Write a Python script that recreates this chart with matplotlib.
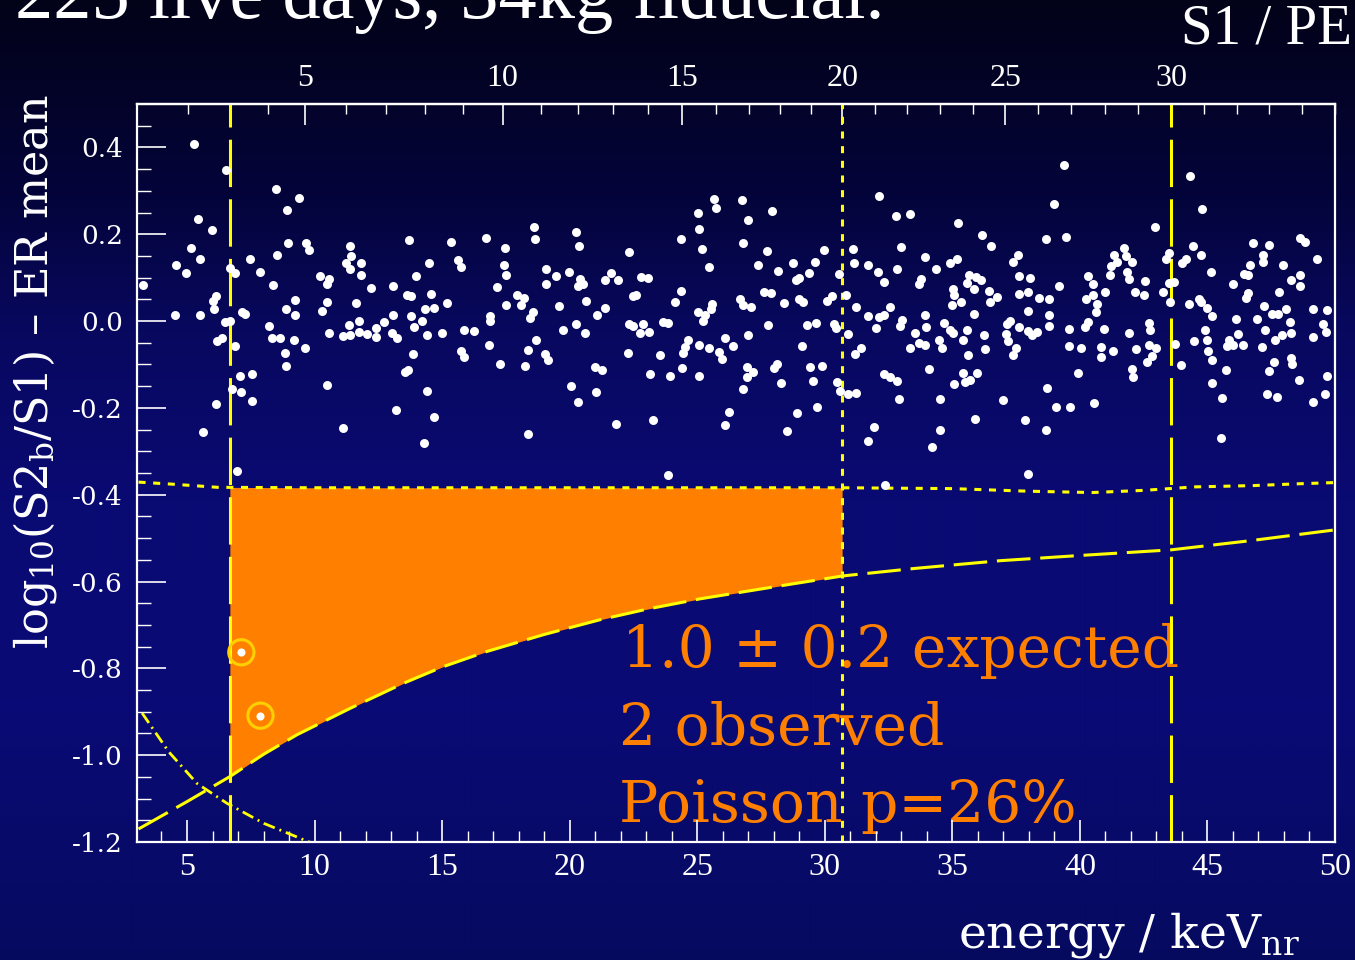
import numpy as np
import matplotlib
matplotlib.use("Agg")
import matplotlib.pyplot as plt
from matplotlib.ticker import FixedLocator

plt.rcParams['axes.unicode_minus'] = False
plt.rcParams['mathtext.fontset'] = 'dejavuserif'

# events: energy [keVnr], log10(S2b/S1) - ER mean
events = np.array([
    [5.26, 0.409], [6.54, 0.348], [8.48, 0.304], [9.40, 0.284], [8.92, 0.255], [5.43, 0.236],
    [5.97, 0.209], [8.95, 0.180], [9.66, 0.180], [9.78, 0.163], [5.17, 0.169], [5.51, 0.142],
    [7.48, 0.144], [8.52, 0.152], [4.57, 0.128], [4.96, 0.110], [6.70, 0.122], [6.88, 0.111],
    [7.88, 0.113], [10.23, 0.103], [10.58, 0.096], [10.48, 0.085], [3.28, 0.082], [8.37, 0.083],
    [6.13, 0.058], [6.02, 0.047], [9.24, 0.048], [10.48, 0.045], [6.05, 0.028], [8.89, 0.028],
    [10.29, 0.024], [4.53, 0.015], [5.50, 0.015], [7.17, 0.020], [7.29, 0.017], [9.25, 0.014],
    [6.68, 0.000], [6.49, -0.003], [8.23, -0.011], [10.56, -0.027], [6.36, -0.039], [6.19, -0.045],
    [8.33, -0.040], [8.66, -0.038], [9.18, -0.044], [6.87, -0.058], [9.64, -0.063], [8.84, -0.073],
    [8.87, -0.103], [7.09, -0.126], [7.56, -0.122], [10.50, -0.147], [6.75, -0.156], [7.11, -0.164],
    [7.56, -0.184], [6.13, -0.192], [5.62, -0.256], [6.95, -0.346],
    [11.40, 0.172], [11.43, 0.151], [11.23, 0.134], [11.39, 0.119], [11.83, 0.133], [11.81, 0.107],
    [13.72, 0.186], [15.36, 0.182], [16.72, 0.191], [18.62, 0.216], [18.64, 0.190], [17.47, 0.168],
    [14.49, 0.134], [15.61, 0.140], [15.75, 0.124], [17.42, 0.128], [17.50, 0.107], [13.99, 0.104],
    [12.23, 0.077], [13.08, 0.081], [13.63, 0.059], [13.78, 0.057], [14.58, 0.063], [17.17, 0.078],
    [17.94, 0.060], [18.20, 0.053], [18.08, 0.036], [17.52, 0.036], [11.62, 0.041], [15.18, 0.041],
    [14.34, 0.028], [14.67, 0.030], [18.57, 0.021], [18.46, 0.006], [13.08, 0.014], [13.79, 0.011],
    [14.23, 0.001], [12.74, -0.002], [16.87, 0.011], [16.87, 0.001], [11.35, -0.010], [11.73, 0.000],
    [13.90, -0.014], [12.41, -0.017], [11.12, -0.035], [11.38, -0.032], [11.74, -0.025], [12.06, -0.029],
    [12.41, -0.036], [13.05, -0.027], [13.25, -0.039], [14.41, -0.032], [14.99, -0.027], [15.87, -0.021],
    [16.25, -0.022], [18.69, -0.043], [16.85, -0.056], [18.37, -0.067], [13.86, -0.075], [15.75, -0.070],
    [15.85, -0.082], [17.26, -0.099], [18.26, -0.103], [13.54, -0.118], [13.65, -0.113], [14.42, -0.160],
    [13.19, -0.204], [14.70, -0.220], [11.12, -0.246], [14.30, -0.281], [18.37, -0.260],
    [25.65, 0.281], [25.75, 0.261], [25.05, 0.249], [25.08, 0.213], [20.26, 0.205], [20.36, 0.174],
    [24.37, 0.188], [25.19, 0.165], [22.33, 0.158], [25.45, 0.125], [19.09, 0.119], [19.46, 0.103],
    [19.06, 0.086], [19.98, 0.113], [20.42, 0.097], [20.51, 0.086], [20.32, 0.080], [21.62, 0.110],
    [21.40, 0.094], [21.91, 0.094], [22.81, 0.102], [23.07, 0.099], [24.38, 0.070], [22.50, 0.057],
    [22.60, 0.059], [20.65, 0.047], [19.60, 0.035], [24.13, 0.043], [21.38, 0.031], [21.09, 0.015],
    [25.58, 0.040], [25.53, 0.028], [25.05, 0.020], [25.32, 0.015], [25.22, 0.000], [20.26, -0.006],
    [22.34, -0.007], [22.47, -0.012], [22.88, -0.007], [23.66, -0.003], [23.86, -0.004], [19.73, -0.020],
    [20.62, -0.028], [22.77, -0.027], [23.10, -0.026], [24.64, -0.044], [24.54, -0.059], [24.43, -0.073],
    [25.08, -0.056], [25.45, -0.063], [26.08, -0.040], [26.41, -0.058], [25.87, -0.071], [25.99, -0.087],
    [19.05, -0.077], [19.14, -0.089], [22.28, -0.073], [23.54, -0.079], [21.00, -0.106], [21.27, -0.113],
    [23.16, -0.122], [23.94, -0.127], [24.41, -0.107], [25.07, -0.127], [20.07, -0.149], [21.05, -0.163],
    [20.34, -0.186], [26.25, -0.209], [26.10, -0.239], [21.81, -0.236], [23.28, -0.228], [23.85, -0.354],
    [26.77, 0.278], [27.92, 0.254], [26.98, 0.233], [26.79, 0.180], [27.73, 0.162], [29.95, 0.163],
    [27.40, 0.130], [28.18, 0.116], [28.76, 0.133], [29.61, 0.136], [29.40, 0.110], [28.89, 0.095],
    [29.00, 0.100], [30.56, 0.108], [27.63, 0.068], [27.90, 0.064], [26.69, 0.051], [26.79, 0.037],
    [27.11, 0.033], [28.39, 0.041], [29.00, 0.050], [29.15, 0.045], [30.08, 0.047], [30.29, 0.057],
    [30.85, 0.061], [31.10, 0.166], [31.15, 0.133], [32.14, 0.289], [32.81, 0.243], [33.36, 0.247],
    [32.98, 0.171], [33.94, 0.147], [31.71, 0.129], [32.09, 0.114], [32.82, 0.120], [32.31, 0.089],
    [33.76, 0.097], [33.69, 0.086], [34.36, 0.120], [31.22, 0.032], [31.70, 0.012], [32.12, 0.009],
    [32.31, 0.013], [32.55, 0.033], [32.00, -0.017], [33.04, 0.003], [32.95, -0.012], [33.94, 0.013],
    [33.96, -0.013], [27.78, -0.010], [29.32, -0.010], [29.67, -0.004], [30.38, -0.006], [30.43, -0.017],
    [26.98, -0.033], [29.11, -0.057], [30.91, -0.029], [33.55, -0.028], [33.70, -0.050], [33.94, -0.054],
    [33.36, -0.063], [31.43, -0.061], [31.18, -0.077], [28.13, -0.098], [28.00, -0.108], [26.97, -0.106],
    [27.19, -0.117], [26.94, -0.130], [29.42, -0.106], [29.89, -0.104], [34.10, -0.110], [32.32, -0.121],
    [32.57, -0.129], [32.83, -0.137], [26.80, -0.157], [28.28, -0.143], [29.53, -0.139], [30.46, -0.141],
    [30.59, -0.161], [30.90, -0.167], [31.23, -0.166], [32.92, -0.179], [29.70, -0.199], [28.91, -0.212],
    [28.51, -0.254], [31.94, -0.243], [31.71, -0.276], [34.19, -0.290], [32.38, -0.377],
    [39.39, 0.360], [39.00, 0.269], [35.23, 0.226], [36.18, 0.199], [36.53, 0.172], [38.69, 0.188],
    [39.45, 0.194], [41.73, 0.169], [41.33, 0.153], [41.82, 0.149], [42.06, 0.136], [41.46, 0.136],
    [41.21, 0.126], [37.58, 0.153], [37.37, 0.136], [34.92, 0.134], [35.19, 0.142], [35.66, 0.107],
    [35.94, 0.101], [36.12, 0.094], [35.58, 0.088], [35.84, 0.074], [35.02, 0.074], [35.08, 0.059],
    [36.43, 0.070], [36.77, 0.056], [36.49, 0.043], [35.35, 0.045], [34.98, 0.038], [37.61, 0.103],
    [38.05, 0.100], [37.61, 0.063], [37.98, 0.068], [39.20, 0.081], [38.39, 0.053], [38.79, 0.051],
    [40.31, 0.103], [40.52, 0.086], [41.18, 0.105], [41.86, 0.113], [41.94, 0.096], [40.98, 0.068],
    [40.53, 0.059], [40.24, 0.050], [40.69, 0.039], [40.62, 0.020], [42.16, 0.066], [35.84, 0.017],
    [37.95, 0.024], [38.79, 0.013], [34.68, -0.004], [37.25, 0.000], [37.13, -0.007], [37.61, -0.013],
    [38.78, -0.012], [39.57, -0.018], [40.32, -0.003], [40.19, -0.013], [40.95, -0.018], [41.93, -0.028],
    [34.90, -0.020], [35.03, -0.027], [35.58, -0.020], [36.23, -0.033], [35.43, -0.044], [37.10, -0.030],
    [37.20, -0.047], [37.98, -0.023], [38.14, -0.031], [38.31, -0.026], [34.48, -0.043], [34.61, -0.063],
    [35.63, -0.079], [36.28, -0.064], [37.51, -0.063], [37.38, -0.079], [39.58, -0.057], [40.06, -0.062],
    [40.84, -0.060], [40.84, -0.082], [41.30, -0.068], [42.18, -0.064], [35.42, -0.119], [35.97, -0.119],
    [35.71, -0.135], [35.51, -0.140], [35.08, -0.146], [39.94, -0.119], [42.06, -0.110], [42.10, -0.129],
    [38.73, -0.154], [34.51, -0.180], [37.00, -0.182], [39.07, -0.197], [39.62, -0.199], [40.57, -0.189],
    [35.90, -0.225], [37.85, -0.229], [34.51, -0.252], [38.66, -0.252], [37.96, -0.352],
    [44.33, 0.335], [44.78, 0.257], [42.94, 0.216], [48.64, 0.192], [48.82, 0.182], [46.79, 0.179],
    [47.42, 0.176], [44.44, 0.172], [44.74, 0.153], [43.49, 0.157], [43.39, 0.142], [44.01, 0.133],
    [44.16, 0.142], [47.17, 0.153], [47.18, 0.136], [46.68, 0.129], [47.97, 0.130], [49.31, 0.144],
    [45.12, 0.113], [46.45, 0.108], [46.59, 0.106], [48.63, 0.105], [48.28, 0.094], [48.63, 0.080],
    [42.54, 0.092], [43.50, 0.088], [43.67, 0.090], [46.02, 0.086], [42.51, 0.061], [43.26, 0.067],
    [47.82, 0.068], [46.59, 0.065], [46.53, 0.053], [43.54, 0.043], [44.28, 0.040], [44.65, 0.050],
    [44.75, 0.044], [44.99, 0.030], [45.19, 0.011], [47.21, 0.034], [47.53, 0.017], [47.76, 0.017],
    [48.06, 0.027], [49.13, 0.028], [49.70, 0.026], [46.12, 0.005], [46.96, 0.004], [48.25, -0.002],
    [49.52, -0.006], [42.72, -0.004], [42.76, -0.021], [44.91, -0.021], [46.19, -0.030], [47.25, -0.021],
    [47.94, -0.033], [48.28, -0.027], [49.66, -0.026], [47.65, -0.043], [49.14, -0.037], [43.74, -0.052],
    [44.49, -0.047], [44.99, -0.044], [45.86, -0.043], [45.77, -0.058], [45.99, -0.054], [46.40, -0.056],
    [47.15, -0.059], [42.71, -0.056], [43.00, -0.063], [42.84, -0.080], [42.63, -0.094], [45.04, -0.069],
    [45.19, -0.089], [48.27, -0.085], [48.32, -0.100], [47.62, -0.094], [43.98, -0.101], [45.72, -0.113],
    [47.42, -0.116], [49.70, -0.126], [48.60, -0.136], [45.17, -0.142], [47.34, -0.167], [47.74, -0.174],
    [49.61, -0.169], [49.14, -0.186], [45.56, -0.178], [45.55, -0.270],
])

# the two candidate events inside the signal region
signal_energy = [7.13, 7.88]
signal_discrim = [-0.763, -0.909]

# lower edge of the benchmark region (NR acceptance boundary)
nr_edge_e = [3.10, 5.0, 6.69, 8.0, 9.31, 11.40, 13.50, 15.0, 16.76, 19.0, 21.19, 23.0,
             25.1, 28.25, 30.72, 33.5, 36.87, 40.0, 43.58, 46.67, 50.0]
nr_edge_y = [-1.170, -1.107, -1.049, -0.998, -0.953, -0.892, -0.834, -0.797, -0.761, -0.722,
             -0.688, -0.664, -0.640, -0.610, -0.587, -0.570, -0.552, -0.540, -0.527, -0.506, -0.481]

# upper edge: ER rejection line
er_cut_e = [3.10, 4.5, 6.2, 10.0, 20.0, 30.7, 35.0, 38.0, 40.5, 42.5, 44.5, 46.8, 48.5, 50.0]
er_cut_y = [-0.371, -0.376, -0.383, -0.384, -0.384, -0.384, -0.386, -0.392, -0.395, -0.390,
            -0.382, -0.379, -0.375, -0.372]

# dash-dotted line in the lower left corner
dd_e = [3.24, 4.28, 5.39, 6.57, 8.01, 9.58, 10.3]
dd_y = [-0.903, -0.992, -1.065, -1.111, -1.157, -1.195, -1.212]

# S1 [PE] to energy [keVnr] conversion used for the top axis
s1_pe = [0, 2, 3, 4, 5, 6, 7, 8, 9, 10, 11, 12, 13, 14, 15, 16, 17, 20, 25, 30, 35]
s1_kev = [1.8, 5.03, 6.68, 8.19, 9.64, 11.22, 12.81, 14.33, 15.83, 17.37, 18.86, 20.31,
          21.68, 23.07, 24.42, 25.74, 27.02, 30.68, 37.07, 43.57, 50.0]

s1_window = (3, 30)   # analysis window in PE
s1_split = 20         # upper end of the shaded region

energy_ticks = [5, 10, 15, 20, 25, 30, 35, 40, 45, 50]
s1_ticks = [5, 10, 15, 20, 25, 30]
y_ticks = [-1.2, -1.0, -0.8, -0.6, -0.4, -0.2, 0.0, 0.2, 0.4]

orange = '#FF8000'
yellow = '#FFFF00'


def s1_to_e(s):
    return np.interp(s, s1_pe, s1_kev)


def e_to_s1(e):
    return np.interp(e, s1_kev, s1_pe)


fig = plt.figure(figsize=(13.55, 9.6), dpi=100)

# dark blue backdrop
rows = np.linspace(0, 960, 480)
stops = [0, 80, 200, 330, 500, 700, 850, 960]
reds = [2, 3, 4, 8, 10, 10, 8, 6]
greens = [2, 3, 4, 8, 10, 10, 10, 10]
blues = [25, 38, 60, 95, 115, 118, 105, 95]
col = np.stack([np.interp(rows, stops, c) for c in (reds, greens, blues)], axis=1) / 255.0
bg_img = np.repeat(col[:, None, :], 8, axis=1)
bg = fig.add_axes([0, 0, 1, 1], zorder=-1)
bg.imshow(bg_img, aspect='auto', extent=[0, 1, 0, 1], interpolation='bilinear')
bg.axis('off')

ax = fig.add_axes([137 / 1355, 1 - 842 / 960, 1198 / 1355, 738 / 960])
ax.set_facecolor('none')
ax.set_xlim(3.04, 50)
ax.set_ylim(-1.2, 0.5)

e_lo = s1_to_e(s1_window[0])
e_mid = s1_to_e(s1_split)
e_hi = s1_to_e(s1_window[1])

# shaded benchmark region
grid = np.array(sorted(set([e_lo, e_mid] + [e for e in nr_edge_e + er_cut_e if e_lo < e < e_mid])))
ax.fill_between(grid, np.interp(grid, nr_edge_e, nr_edge_y), np.interp(grid, er_cut_e, er_cut_y),
                color=orange, lw=0, zorder=1)

ax.plot(nr_edge_e, nr_edge_y, color=yellow, lw=2.2, dashes=(11, 3.2), zorder=2)
ax.plot(er_cut_e, er_cut_y, color=yellow, lw=2.2, dashes=(2.3, 2.5), zorder=2)
ax.plot(dd_e, dd_y, color=yellow, lw=2.0, dashes=(4.3, 1.8, 0.7, 1.8), zorder=2)

ax.axvline(e_lo, color=yellow, lw=2.2, dashes=(15.5, 4), zorder=2)
ax.axvline(e_hi, color=yellow, lw=2.2, dashes=(15.5, 4), zorder=2)
ax.axvline(e_mid, color=yellow, lw=2.2, dashes=(2.3, 2.5), zorder=2)

ax.scatter(events[:, 0], events[:, 1], s=42, color='white', lw=0, zorder=3)
ax.scatter(signal_energy, signal_discrim, s=330, facecolor='none', edgecolor='#FFD000',
           lw=2.2, zorder=3)
ax.scatter(signal_energy, signal_discrim, s=34, color='white', lw=0, zorder=4)

# result summary
summary = ['1.0 \u00b1 0.2 expected', '2 observed', 'Poisson p=26%']
for i, line in enumerate(summary):
    ax.text(0.405 if i == 0 else 0.402, 0.237 - 0.105 * i, line, transform=ax.transAxes,
            fontsize=42, family='DejaVu Serif', color=orange, va='baseline', zorder=1.5)

# axes styling
for sp in ax.spines.values():
    sp.set_color('white')
    sp.set_linewidth(1.6)

ax.set_xticks(energy_ticks, [str(t) for t in energy_ticks], fontfamily='Liberation Serif', fontsize=23)
ax.xaxis.set_minor_locator(FixedLocator(np.arange(4, 50, 1)))
ax.set_yticks(y_ticks, [f'{v:.1f}' for v in y_ticks], fontfamily='DejaVu Serif', fontsize=19)
ax.yaxis.set_minor_locator(FixedLocator(np.arange(-1.15, 0.5, 0.05)))
ax.tick_params(axis='x', which='major', direction='in', length=16, width=1.2, colors='white', pad=8, top=False)
ax.tick_params(axis='x', which='minor', direction='in', length=8, width=1.0, colors='white', top=False)
ax.tick_params(axis='y', which='major', direction='in', length=21, width=1.2, colors='white', pad=10, right=False)
ax.tick_params(axis='y', which='minor', direction='in', length=10, width=1.0, colors='white', right=False)

top = ax.secondary_xaxis('top', functions=(e_to_s1, s1_to_e))
top.set_xticks(s1_ticks, [str(t) for t in s1_ticks], fontfamily='Liberation Serif', fontsize=23)
top.xaxis.set_minor_locator(FixedLocator(np.arange(2, 36, 1)))
top.tick_params(axis='x', which='major', direction='in', length=15, width=1.2, colors='white', pad=8)
top.tick_params(axis='x', which='minor', direction='in', length=7, width=1.0, colors='white')
top.spines['top'].set_color('white')
top.spines['top'].set_linewidth(1.6)

# labels around the frame
fig.text(35 / 1355, 1 - 372 / 960,
         r'log$_{\mathregular{10}}$(S2$_{\mathregular{b}}$/S1) ' + '\u2013 ER mean',
         rotation=90, ha='center', va='center', fontsize=32, family='DejaVu Serif', color='white')
fig.text(958 / 1355, 1 - 947 / 960, r'energy / keV$_{\mathregular{nr}}$', ha='left', va='baseline',
         fontsize=34, family='DejaVu Serif', color='white')
fig.text(1352 / 1355, 1 - 43 / 960, 'S1 / PE', ha='right', va='baseline',
         fontsize=41, family='Liberation Serif', color='white')
fig.text(15 / 1355, 1 - 18 / 960, '225 live days, 34kg fiducial.', ha='left', va='baseline',
         fontsize=55, family='Liberation Serif', color='white')

fig.savefig('out.png', dpi=100)
